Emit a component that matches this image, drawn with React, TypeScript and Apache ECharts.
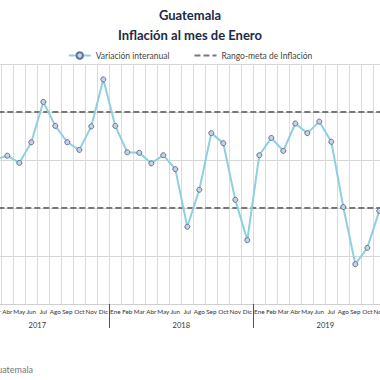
import React, { useEffect, useRef } from "react";
import * as echarts from "echarts";

const months = ["Ene","Feb","Mar","Abr","May","Jun","Jul","Ago","Sep","Oct","Nov","Dic"];
const years = ["2017", "2018", "2019"];
const categories: string[] = years.flatMap((y) => months.map((m) => `${m} ${y}`));

const inflation2017 = [4.37, 4.40, 4.01, 4.09, 3.94, 4.37, 5.21, 4.71, 4.37, 4.21, 4.70, 5.68];
const inflation2018 = [4.71, 4.16, 4.15, 3.93, 4.10, 3.81, 2.61, 3.38, 4.56, 4.35, 3.17, 2.33];
const inflation2019 = [4.10, 4.46, 4.19, 4.76, 4.56, 4.80, 4.38, 3.02, 1.83, 2.17, 2.94, 3.41];
const inflation = [...inflation2017, ...inflation2018, ...inflation2019];

const targetUpper = categories.map(() => 5);
const targetLower = categories.map(() => 3);

const FONT = "Lato, 'Noto Sans', sans-serif";

export default function App() {
  const ref = useRef<HTMLDivElement>(null);
  useEffect(() => {
    if (!ref.current) return;
    const chart = echarts.init(ref.current, undefined, { renderer: "svg" });
    chart.setOption({
      animation: false,
      backgroundColor: "#ffffff",
      title: [
        {
          text: "Guatemala",
          left: "center",
          top: 3,
          textStyle: { fontSize: 13, fontWeight: "bold", color: "#1b2a48", fontFamily: FONT },
        },
        {
          text: "Inflación al mes de Enero",
          left: "center",
          top: 23,
          textStyle: { fontSize: 13, fontWeight: "bold", color: "#1b2a48", fontFamily: FONT },
        },
      ],
      legend: {
        top: 46,
        left: "center",
        itemGap: 24,
        itemWidth: 22,
        itemHeight: 8,
        data: [
          { name: "Variación interanual" },
          { name: "Rango-meta de Inflación", itemStyle: { opacity: 0 } },
        ],
        textStyle: { fontSize: 8.5, color: "#444", fontFamily: FONT },
      },
      grid: {
        left: -34.7,
        width: 432,
        top: 64,
        bottom: 76,
        containLabel: false,
        outerBoundsMode: "none",
      },
      xAxis: [
        {
          type: "category",
          data: categories,
          boundaryGap: true,
          axisLine: { show: true, lineStyle: { color: "#cfcfcf" } },
          axisTick: { show: false },
          axisLabel: {
            interval: 0,
            fontSize: 6.3,
            color: "#333",
            margin: 4,
            fontFamily: FONT,
            formatter: (v: string) => v.split(" ")[0],
          },
          splitLine: { show: true, interval: 0, lineStyle: { color: "#dcdcdc", width: 1 } },
        },
        {
          type: "category",
          data: years,
          position: "bottom",
          boundaryGap: true,
          axisLine: { show: false },
          axisTick: { show: true, length: 24, lineStyle: { color: "#555", width: 1 } },
          axisLabel: { fontSize: 7.5, color: "#333", margin: 17, fontFamily: FONT },
          splitLine: { show: false },
        },
      ],
      yAxis: {
        type: "value",
        min: 1,
        max: 6,
        interval: 1,
        axisLabel: { show: false },
        axisLine: { show: false },
        axisTick: { show: false },
        splitLine: { show: true, lineStyle: { color: "#d6d6d6" } },
      },
      series: [
        {
          name: "Rango-meta de Inflación",
          type: "line",
          data: targetUpper,
          symbol: "none",
          lineStyle: { color: "#777", width: 2, type: [6, 3] },
          itemStyle: { color: "#777" },
          z: 2,
        },
        {
          name: "Rango-meta de Inflación",
          type: "line",
          data: targetLower,
          symbol: "none",
          lineStyle: { color: "#777", width: 2, type: [6, 3] },
          itemStyle: { color: "#777" },
          z: 2,
        },
        {
          name: "Variación interanual",
          type: "line",
          data: inflation,
          symbol: "circle",
          symbolSize: 5,
          lineStyle: { color: "#8fcfe0", width: 2 },
          itemStyle: { color: "#c9d2e3", borderColor: "#5d719c", borderWidth: 1 },
          z: 3,
        },
      ],
      graphic: [
        {
          type: "text",
          right: 347,
          top: 365,
          style: {
            text: "Fuente: Banco de Guatemala",
            fontSize: 9,
            fill: "#777",
            fontFamily: FONT,
          },
        },
      ],
    });
    return () => chart.dispose();
  }, []);
  return (
    <div
      ref={ref}
      style={{ position: "fixed", left: 0, top: 0, width: 380, height: 380 }}
    />
  );
}
